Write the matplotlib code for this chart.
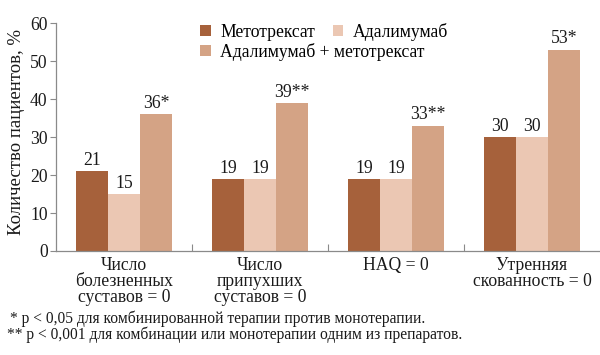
import matplotlib
matplotlib.use("Agg")
import matplotlib.pyplot as plt
from matplotlib.patches import Patch

plt.rcParams['font.family'] = ['Liberation Serif', 'DejaVu Serif']

categories = ["Число\nболезненных\nсуставов = 0",
              "Число\nприпухших\nсуставов = 0",
              "HAQ = 0",
              "Утренняя\nскованность = 0"]
series_names = ["Метотрексат", "Адалимумаб", "Адалимумаб + метотрексат"]
mtx = [21, 19, 19, 30]
ada = [15, 19, 19, 30]
combo = [36, 39, 33, 53]
combo_labels = ["36*", "39**", "33**", "53*"]
yticks = [0, 10, 20, 30, 40, 50, 60]

colors = ['#A6613B', '#EBC7B3', '#D4A385']
axis_gray = '#8a8a8a'
txt = '#1a1a1a'
fs = 12.7

fig = plt.figure(figsize=(6, 3.55), dpi=100)
ax = fig.add_axes([0.0933, 0.293, 0.9067, 0.642])

x = list(range(len(categories)))
w = 0.235
series = [mtx, ada, combo]
for i, vals in enumerate(series):
    xs = [xi + (i - 1) * w for xi in x]
    ax.bar(xs, vals, width=w, color=colors[i], linewidth=0)
    labels = combo_labels if i == 2 else [str(v) for v in vals]
    for xv, v, lab in zip(xs, vals, labels):
        ax.text(xv, v + 0.6, lab, ha='center', va='bottom', fontsize=fs, color=txt)

ax.set_xlim(-0.5, 3.5)
ax.set_ylim(0, 60)
ax.set_yticks(yticks)
ax.set_xticks(x)
ax.set_xticklabels(categories, fontsize=fs, linespacing=0.95, color=txt)
ax.set_xticks([0.5, 1.5, 2.5], minor=True)
ax.tick_params(axis='x', which='major', length=0, pad=4)
ax.tick_params(axis='x', which='minor', direction='in', length=5, color=axis_gray, width=0.8)
ax.tick_params(axis='y', length=4, color=axis_gray, width=0.8, labelsize=fs,
               labelcolor=txt, pad=2)

for s in ['top', 'right']:
    ax.spines[s].set_visible(False)
for s in ['left', 'bottom']:
    ax.spines[s].set_color(axis_gray)
    ax.spines[s].set_linewidth(0.9)

ax.set_ylabel("Количество пациентов, %", fontsize=13.5, color=txt)
ax.yaxis.set_label_coords(-0.057, 0.52)

handles = [Patch(facecolor=c, edgecolor='none') for c in colors]
leg_kw = dict(loc='center left', bbox_transform=fig.transFigure, frameon=False,
              fontsize=fs, handlelength=0.6, handleheight=0.6, handletextpad=0.55,
              borderpad=0, borderaxespad=0)
leg1 = ax.legend(handles[:2], series_names[:2], ncol=2, columnspacing=1.0,
                 bbox_to_anchor=(200 / 600, 1 - 32 / 355), **leg_kw)
ax.add_artist(leg1)
ax.legend(handles[2:], series_names[2:], bbox_to_anchor=(200 / 600, 1 - 52 / 355), **leg_kw)

fig.text(10 / 600, 1 - 319 / 355, "* p < 0,05 для комбинированной терапии против монотерапии.",
         fontsize=11.2, va='center', ha='left', color=txt)
fig.text(7 / 600, 1 - 335 / 355, "** p < 0,001 для комбинации или монотерапии одним из препаратов.",
         fontsize=11.2, va='center', ha='left', color=txt)

fig.savefig("out.png", dpi=100)
